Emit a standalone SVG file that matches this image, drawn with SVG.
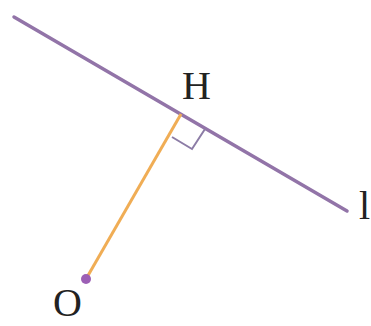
<svg xmlns="http://www.w3.org/2000/svg" width="371" height="326" viewBox="0 0 371 326">
<style>
.lbl{font-family:"Liberation Serif","Times New Roman",serif;font-size:40px;fill:#222}
.line{stroke:#9274a8;stroke-width:3.5;stroke-linecap:round;fill:none}
.seg{stroke:#f0ad55;stroke-width:3;fill:none}
.mark{stroke:#8c7ca6;stroke-width:2;fill:none}
</style>
<rect width="371" height="326" fill="#fff"/>
<g id="connectors">
<line class="line" x1="14" y1="17" x2="347" y2="211"/>
<line class="seg" x1="86" y1="279" x2="181" y2="114"/>
<polyline class="mark" points="172,137 192,149 205,129"/>
</g>
<g id="O">
<circle cx="86" cy="279" r="5" fill="#9c5fb5"/>
<text class="lbl" x="53" y="316">O</text>
</g>
<g id="H">
<text class="lbl" x="182" y="99">H</text>
</g>
<g id="l">
<text class="lbl" x="359" y="219">l</text>
</g>
</svg>
